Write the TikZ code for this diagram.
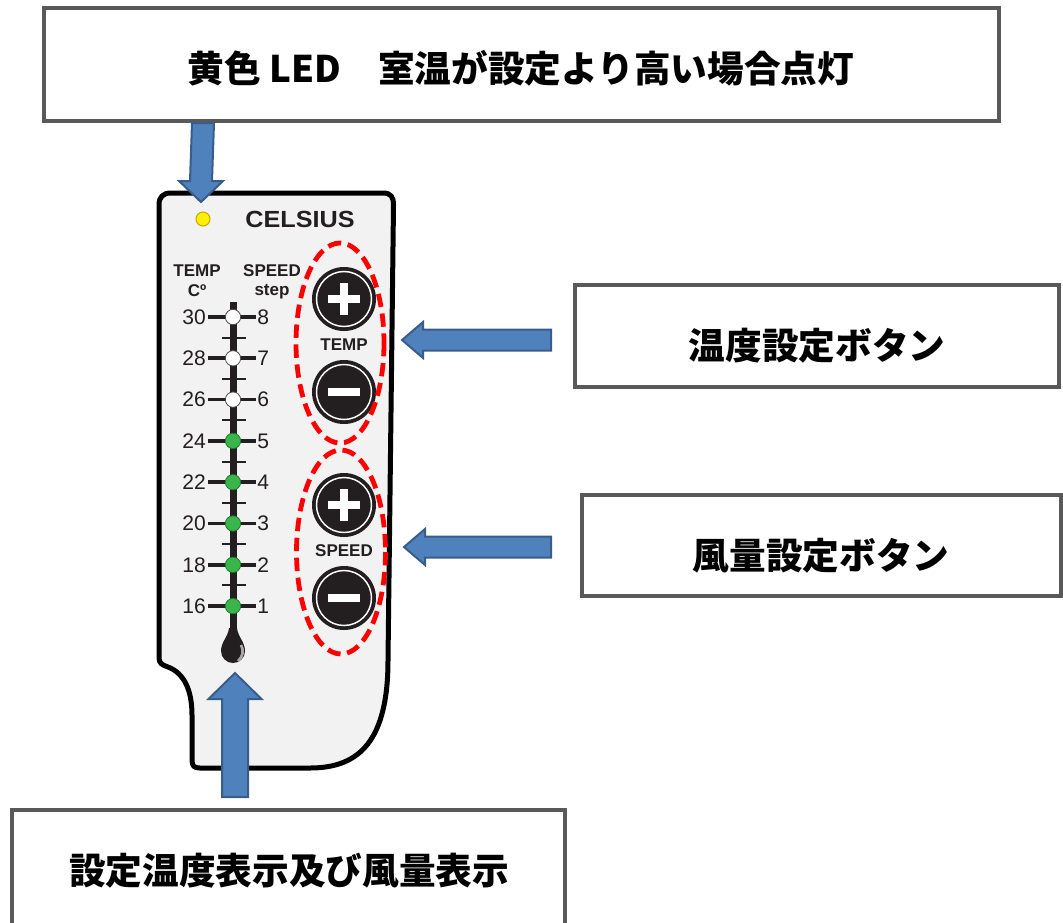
\documentclass[tikz,border=0pt]{standalone}
\usepackage{fontspec}
\setmainfont{Liberation Sans}
\newfontfamily\jp{Noto Sans CJK JP}
\usetikzlibrary{calc}
\definecolor{boxgray}{HTML}{595959}
\definecolor{arrowblue}{HTML}{4F81BD}
\definecolor{arrowdark}{HTML}{385D8A}
\definecolor{devfill}{HTML}{F2F2F2}
\definecolor{devtext}{HTML}{231F20}
\definecolor{ledyellow}{HTML}{FFEF00}
\definecolor{ledrim}{HTML}{C9A800}
\definecolor{ledgreen}{HTML}{39B54A}
\definecolor{greenrim}{HTML}{1F7A30}
\begin{document}
\begin{tikzpicture}[x=0.75pt,y=-0.75pt,
  box/.style={draw=boxgray,line width=3pt,fill=white,inner sep=0},
  jptext/.style={font=\jp\bfseries\fontsize{27.5}{30}\selectfont,inner sep=0},
  barrow/.style={fill=arrowblue,draw=arrowdark,line width=1.5pt,line join=miter},
  devlabel/.style={text=devtext,inner sep=0,font=\bfseries\fontsize{12.75}{14}\selectfont},
  numlabel/.style={text=devtext,inner sep=0,font=\fontsize{15.8}{17}\selectfont},
  redring/.style={draw=red,line width=3.6pt,dash pattern=on 10pt off 5pt},
  pics/btnplus/.style={code={
    \fill[devtext] (0,0) circle[radius=32];
    \draw[white,line width=1.1pt] (0,0) circle[radius=27.5];
    \fill[white] (-16,-4) rectangle (16,4);
    \fill[white] (-4,-16) rectangle (4,16);
  }},
  pics/btnminus/.style={code={
    \fill[devtext] (0,0) circle[radius=32];
    \draw[white,line width=1.1pt] (0,0) circle[radius=27.5];
    \fill[white] (-16,-4) rectangle (16,4);
  }}
]
\useasboundingbox (0,0) rectangle (1063,922);

% ---- callout boxes ----
\node[box,minimum width=716.25pt,minimum height=84.75pt] (topbox) at (521.5,64.5) {};
\node[jptext] (toptext) at (521,68) {黄色 LED　室温が設定より高い場合点灯};

\node[box,minimum width=363pt,minimum height=76.5pt] (tempbox) at (817,336) {};
\node[jptext] (temptext) at (817,346) {温度設定ボタン};

\node[box,minimum width=359.25pt,minimum height=75.75pt] (speedbox) at (821.5,545.5) {};
\node[jptext] (speedtext) at (821,556) {風量設定ボタン};

\draw[boxgray,line width=3pt,fill=white] (12,935) -- (12,810) -- (565,810) -- (565,935);
\coordinate (bottombox) at (288.5,810);
\node[jptext] (bottomtext) at (289,871) {設定温度表示及び風量表示};

% ---- device ----
\draw[line width=3.75pt,fill=devfill,line join=round]
  (159,205) -- (159,658) .. controls (159,663) and (162,665) .. (168,667)
  .. controls (184,673) and (192,690) .. (192,715) -- (192,760)
  .. controls (192,766) and (194,768) .. (200,768) -- (310,768)
  .. controls (360,768) and (388,740) .. (388,660) -- (393.5,205)
  .. controls (393.5,197) and (391,193) .. (383,193) -- (171,193)
  .. controls (163,193) and (159,197) .. (159,205) -- cycle;

\node[circle,fill=ledyellow,draw=ledrim,line width=0.8pt,minimum size=10.5pt,inner sep=0] (led) at (203,219) {};
\node[text=devtext,inner sep=0,font=\bfseries\fontsize{17.5}{19}\selectfont] (celsius) at (300,219) {\scalebox{1.08}[1]{CELSIUS}};

\node[devlabel] (templbl) at (197,271) {TEMP};
\node[devlabel] (clbl) at (197,291) {Cº};
\node[devlabel] (speedlbl) at (272,271) {SPEED};
\node[devlabel] (steplbl) at (272,292) {step};

% thermometer stem and bulb
\draw[devtext,line width=5.25pt] (233,302) -- (233,636);
\fill[devtext] (229,628) -- (237,628) .. controls (238,637) and (245,642) .. (245,651)
  arc[start angle=0,end angle=180,radius=12]
  .. controls (221,642) and (228,637) .. (229,628) -- cycle;
\draw[gray!70,line width=2pt] (241,645) .. controls (244,650) and (243,657) .. (238,661);

\foreach \k in {0,...,6}{
  \draw[devtext,line width=1.5pt] (222,{317+41.3*\k+20.65}) -- (246,{317+41.3*\k+20.65});
}
\foreach \t/\s [count=\k from 0] in {30/8,28/7,26/6,24/5,22/4,20/3,18/2,16/1}{
  \draw[devtext,line width=2.8pt] (208,{317+41.3*\k}) -- (256,{317+41.3*\k});
  \ifnum\k<3
    \node[circle,fill=white,draw=devtext!80,line width=0.6pt,minimum size=11.5pt,inner sep=0] (dot\k) at (233,{317+41.3*\k}) {};
  \else
    \node[circle,fill=ledgreen,draw=greenrim,line width=0.6pt,minimum size=11.5pt,inner sep=0] (dot\k) at (233,{317+41.3*\k}) {};
  \fi
  \node[numlabel,anchor=east] (l\k) at (206,{317+41.3*\k}) {\t};
  \node[numlabel,anchor=west] (r\k) at (257,{317+41.3*\k}) {\s};
}

% buttons
\pic at (344,299) {btnplus};
\pic at (344,392) {btnminus};
\node[devlabel] (tempbtnlbl) at (344,345) {TEMP};
\pic at (344,505) {btnplus};
\pic at (344,598) {btnminus};
\node[devlabel] (speedbtnlbl) at (344,551) {SPEED};

\draw[redring] (340,343) ellipse[x radius=44,y radius=100];
\draw[redring] (341,552) ellipse[x radius=44.5,y radius=102];

% ---- block arrows ----
% top arrow: topbox -> led
\coordinate (a1s) at (topbox.south -| led);
\coordinate (a1t) at (201,202);
\draw[barrow] ($(a1s)+(-11,0)$) -- ($(a1t)+(-11,-21)$) -- ($(a1t)+(-22,-21)$) -- (a1t)
  -- ($(a1t)+(22,-21)$) -- ($(a1t)+(11,-21)$) -- ($(a1s)+(11,0)$) -- cycle;

% temp arrow
\coordinate (a2s) at (551,340);
\coordinate (a2t) at (402,340);
\draw[barrow] ($(a2s)+(0,-10.5)$) -- ($(a2t)+(21,-10.5)$) -- ($(a2t)+(21,-18)$) -- (a2t)
  -- ($(a2t)+(21,18)$) -- ($(a2t)+(21,10.5)$) -- ($(a2s)+(0,10.5)$) -- cycle;

% speed arrow
\coordinate (a3s) at (551,547);
\coordinate (a3t) at (404,547);
\draw[barrow] ($(a3s)+(0,-10.5)$) -- ($(a3t)+(21,-10.5)$) -- ($(a3t)+(21,-18)$) -- (a3t)
  -- ($(a3t)+(21,18)$) -- ($(a3t)+(21,10.5)$) -- ($(a3s)+(0,10.5)$) -- cycle;

% bottom arrow
\coordinate (a4s) at (235,797);
\coordinate (a4t) at (235,673);
\draw[barrow] ($(a4s)+(-13,0)$) -- ($(a4t)+(-13,26)$) -- ($(a4t)+(-26.5,26)$) -- (a4t)
  -- ($(a4t)+(26.5,26)$) -- ($(a4t)+(13,26)$) -- ($(a4s)+(13,0)$) -- cycle;
\end{tikzpicture}
\end{document}
